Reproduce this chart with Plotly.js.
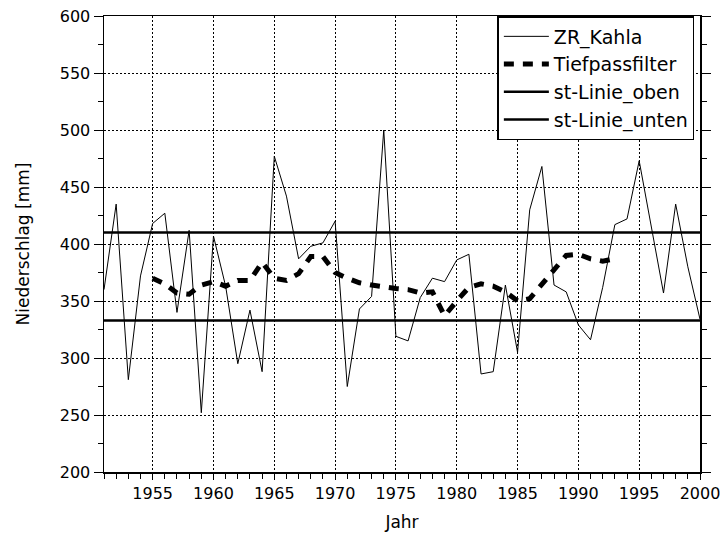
<!DOCTYPE html>
<html>
<head>
<meta charset="utf-8">
<script src="https://cdn.plot.ly/plotly-3.0.1.min.js"></script>
<style>html,body{margin:0;padding:0;background:#fff;}#chart{width:720px;height:543px;}</style>
</head>
<body>
<div id="chart"></div>
<script>
var years = [1951,1952,1953,1954,1955,1956,1957,1958,1959,1960,1961,1962,1963,1964,1965,1966,1967,1968,1969,1970,1971,1972,1973,1974,1975,1976,1977,1978,1979,1980,1981,1982,1983,1984,1985,1986,1987,1988,1989,1990,1991,1992,1993,1994,1995,1996,1997,1998,1999,2000];
var zrKahla = [360,435,281,372,418,427,340,412,252,407,363,295,342,288,477,442,387,398,401,420,275,343,354,500,319,315,353,370,367,386,391,286,288,364,305,430,468,364,358,329,316,362,417,422,473,414,357,435,380,334];
var filterYears = [1955,1956,1957,1958,1959,1960,1961,1962,1963,1964,1965,1966,1967,1968,1969,1970,1971,1972,1973,1974,1975,1976,1977,1978,1979,1980,1981,1982,1983,1984,1985,1986,1987,1988,1989,1990,1991,1992,1993];
var tiefpass = [370,365,357,356,364,367,363,368,368,384,370,368,374,389,389,375,370,366,364,362,361,360,357,358,337,350,362,365,363,358,350,352,365,378,390,391,387,385,387];
var stOben = 410;
var stUnten = 333;
var xTickVals = [1955,1960,1965,1970,1975,1980,1985,1990,1995,2000];
var xRange = [1951, 2000];
var yRange = [200, 600];

var fnt = {family: 'DejaVu Sans', size: 16, color: '#000'};

var traces = [
  {x: years, y: zrKahla, type: 'scatter', mode: 'lines', name: 'ZR_Kahla', legendgroup: 'a',
   line: {color: '#000', width: 1}},
  {x: filterYears, y: tiefpass, type: 'scatter', mode: 'lines', name: 'Tiefpassfilter', legendgroup: 'b',
   line: {color: '#000', width: 5, dash: '10px,9px'}},
  {x: xRange, y: [stOben, stOben], type: 'scatter', mode: 'lines', name: 'st-Linie_oben', legendgroup: 'c',
   line: {color: '#000', width: 2.5}},
  {x: xRange, y: [stUnten, stUnten], type: 'scatter', mode: 'lines', name: 'st-Linie_unten', legendgroup: 'd',
   line: {color: '#000', width: 2.5}}
];

var layout = {
  width: 720, height: 543,
  margin: {l: 104, r: 20, t: 16, b: 71},
  paper_bgcolor: '#fff', plot_bgcolor: '#fff',
  font: fnt,
  showlegend: true,
  legend: {x: 0.66, y: 1, xanchor: 'left', yanchor: 'top', bgcolor: '#fff',
           bordercolor: '#000', borderwidth: 1.5, font: {family: 'DejaVu Sans', size: 19, color: '#000'},
           traceorder: 'grouped', tracegroupgap: 0, itemwidth: 45},
  xaxis: {
    range: xRange, tickmode: 'array', tickvals: xTickVals,
    ticks: 'outside', ticklen: 6, tickwidth: 1, tickcolor: '#000',
    minor: {dtick: 1, tick0: 1951, ticks: 'outside', ticklen: 5, tickwidth: 1, tickcolor: '#000', showgrid: false},
    showline: true, linecolor: '#000', linewidth: 1.5, mirror: true,
    showgrid: true, gridcolor: '#000', gridwidth: 1, griddash: '2px,2px',
    zeroline: false, tickfont: fnt, ticklabeloverflow: 'allow',
    title: {text: 'Jahr', font: {family: 'DejaVu Sans', size: 17, color: '#000'}, standoff: 14}
  },
  yaxis: {
    range: yRange, tickmode: 'linear', tick0: 200, dtick: 50,
    ticks: 'outside', ticklen: 9, tickwidth: 1, tickcolor: '#000',
    minor: {dtick: 25, tick0: 200, ticks: 'outside', ticklen: 5, tickwidth: 1, tickcolor: '#000', showgrid: false},
    showline: true, linecolor: '#000', linewidth: 1.5, mirror: 'ticks',
    showgrid: true, gridcolor: '#000', gridwidth: 1, griddash: '2px,2px',
    zeroline: false, tickfont: fnt,
    title: {text: 'Niederschlag [mm]', font: {family: 'DejaVu Sans', size: 17, color: '#000'}, standoff: 26}
  }
};

Plotly.newPlot('chart', traces, layout, {staticPlot: true, displayModeBar: false});
</script>
</body>
</html>
